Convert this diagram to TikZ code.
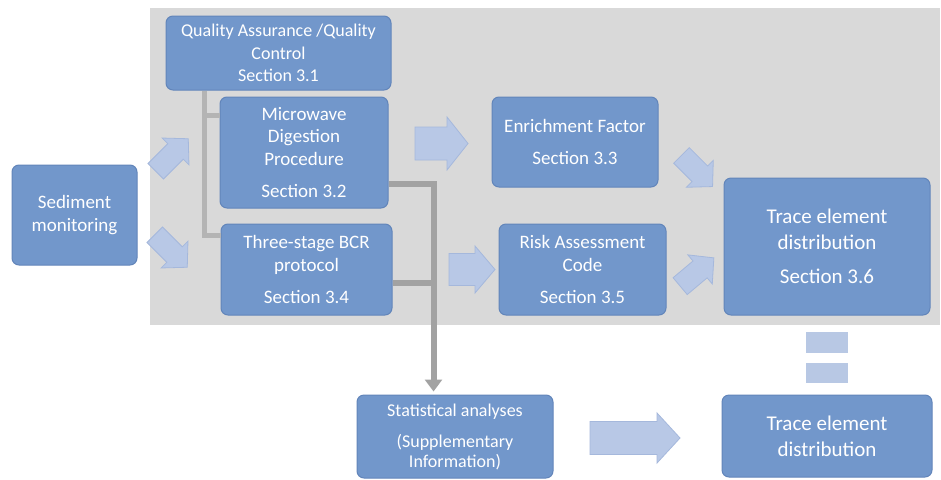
\documentclass[tikz,border=0pt]{standalone}
\usepackage{fontspec}
\setmainfont{Carlito}
\usetikzlibrary{arrows.meta,calc}
\definecolor{boxfill}{RGB}{114,151,203}
\definecolor{boxedge}{RGB}{98,133,186}
\definecolor{bgray}{RGB}{217,217,217}
\definecolor{arrfill}{RGB}{184,200,230}
\definecolor{arredge}{RGB}{165,184,220}
\definecolor{lconn}{RGB}{180,180,180}
\definecolor{dconn}{RGB}{162,162,162}
\definecolor{sqfill}{RGB}{184,200,228}
\tikzset{
  box/.style={draw=boxedge, line width=1pt, fill=boxfill, rounded corners=7pt,
    text=white, align=center, inner sep=0pt,
    font=\fontsize{19}{22.5}\selectfont},
  bigbox/.style={box, font=\fontsize{21}{26}\selectfont},
  qabox/.style={box, font=\fontsize{18}{22.5}\selectfont},
  smallbox/.style={box, font=\fontsize{18}{20}\selectfont},
  barrow/.style={fill=arrfill, draw=arredge, line width=0.8pt, line join=miter},
  lightconn/.style={draw=lconn, line width=5pt},
  darkconn/.style={draw=dconn, line width=6pt},
}
\newcommand\blockarr[7]{% cx, cy, angle, length, shafthalf, headhalf, headlen
  \begin{scope}[shift={(#1,#2)}, rotate=#3]
    \path[barrow] ({-#4/2},{-#5}) -- ({#4/2-#7},{-#5}) -- ({#4/2-#7},{-#6})
      -- ({#4/2},0) -- ({#4/2-#7},{#6}) -- ({#4/2-#7},{#5}) -- ({-#4/2},{#5}) -- cycle;
  \end{scope}}
\begin{document}
\begin{tikzpicture}[x=1pt,y=-1pt]
\useasboundingbox (0,0) rectangle (941,479);
\fill[white] (0,0) rectangle (941,479);
\fill[bgray] (150,8) rectangle (940,325);

% boxes
\node[qabox, minimum width=225pt, minimum height=74pt] (qa) at (278.5,53)
  {Quality Assurance /Quality\\Control\\Section 3.1};
\node[box, minimum width=168pt, minimum height=111pt] (mw) at (304,152.5)
  {Microwave\\Digestion\\Procedure\\[10pt]Section 3.2};
\node[box, minimum width=171pt, minimum height=91pt] (bcr) at (306.5,269.5)
  {Three-stage BCR\\protocol\\[10pt]Section 3.4};
\node[box, minimum width=166pt, minimum height=90pt] (ef) at (575,142)
  {Enrichment Factor\\[9pt]Section 3.3};
\node[box, minimum width=167pt, minimum height=91pt] (rac) at (582.5,269.5)
  {Risk Assessment\\Code\\[10pt]Section 3.5};
\node[bigbox, minimum width=206pt, minimum height=137pt] (te1) at (827,246.5)
  {Trace element\\distribution\\[8pt]Section 3.6};
\node[bigbox, minimum width=210pt, minimum height=82pt] (te2) at (827,436)
  {Trace element\\distribution};
\node[smallbox, minimum width=196pt, minimum height=83pt] (sa) at (455,436.5)
  {Statistical analyses\\[11pt](Supplementary\\Information)};
\node[box, minimum width=125pt, minimum height=100pt] (sed) at (74.5,215)
  {Sediment\\monitoring};

% light gray bracket (QA/QC)
\coordinate (q1) at ([xshift=39pt]qa.south west);
\coordinate (m0) at ([yshift=-19pt]mw.north west);
\coordinate (b0) at ([yshift=-12pt]bcr.north west);
\draw[lightconn] (q1) |- (b0);
\draw[lightconn] (m0) -- ([xshift=-2.5pt]m0 -| q1);

% dark gray bracket to statistical analyses
\coordinate (m1) at ([yshift=25pt]mw.south east);
\coordinate (b1) at ([yshift=33pt]bcr.south east);
\coordinate (jx) at ($(m1)+(45,0)$);
\draw[darkconn] (m1) -- (jx) -- (b1 -| jx) -- (b1);
\draw[darkconn, -{Triangle[width=17pt,length=12pt]}, shorten >=3pt]
  (b1 -| jx) -- (sa.north -| jx);

% block arrows
\blockarr{172}{155}{45}{46}{11}{19}{18}
\blockarr{171}{251}{-45}{46}{11}{19}{18}
\blockarr{441.5}{143.5}{0}{53}{16.5}{26.5}{21}
\blockarr{472}{269.5}{0}{46}{16}{23.5}{20}
\blockarr{697}{171}{-45}{44}{11}{19}{18}
\blockarr{697}{272}{40}{44}{11}{19}{18}
\blockarr{635}{438}{0}{90}{16.5}{25}{23}

% equals sign
\fill[sqfill] (806,332) rectangle (848,353);
\fill[sqfill] (806,363) rectangle (848,383);
\end{tikzpicture}
\end{document}
